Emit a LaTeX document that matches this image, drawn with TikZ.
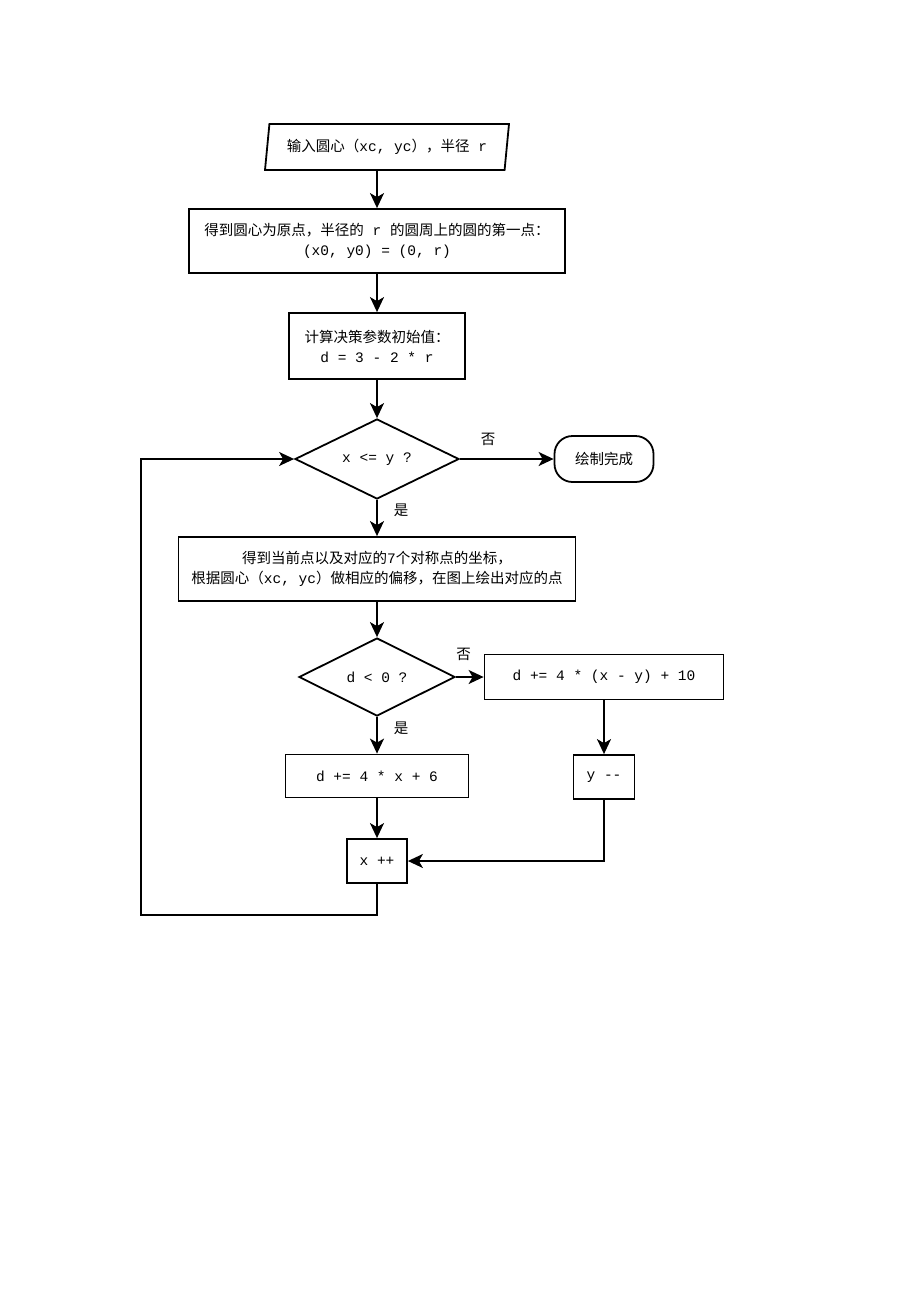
\documentclass[tikz,border=0pt]{standalone}
\usepackage{fontspec}
\setmainfont{Liberation Mono}
\newfontfamily\cjk{Noto Sans CJK SC}
\usetikzlibrary{arrows.meta,shapes.geometric}
\tikzset{
 >={Stealth[length=15pt,width=14pt,inset=4pt]},
 every node/.style={font=\fontsize{14.5}{20}\selectfont},
 conn/.style={line width=1.8pt},
 flowbox/.style={draw,line width=1.8pt,fill=white,inner sep=0pt,align=center},
 inbox/.style={flowbox,shape=trapezium,trapezium left angle=74,trapezium right angle=106,
   trapezium stretches body,minimum width=244pt,minimum height=46pt},
 decide/.style={flowbox,shape=diamond,aspect=2},
 endbox/.style={flowbox,rounded corners=18pt,minimum width=99pt,minimum height=46pt},
 lab/.style={inner sep=2pt,font=\fontsize{14.5}{20}\cjk}
}
\begin{document}
\begin{tikzpicture}[x=1pt,y=-1pt]
\useasboundingbox[fill=white] (0,0) rectangle (920,1302);
\path (387,147) node[name=in,inbox] {{\cjk 输入圆心（}xc, yc{\cjk ），半径} r};
\path (377,241) node[name=init,flowbox,minimum width=376pt,minimum height=64pt]
  {{\cjk 得到圆心为原点，半径的} r {\cjk 的圆周上的圆的第一点：}\\(x0, y0) = (0, r)};
\path (377,346) node[name=dinit,flowbox,minimum width=176pt,minimum height=66pt]
  {{\cjk 计算决策参数初始值：}\\d = 3 - 2 * r};
\path (377,459) node[name=test,decide,minimum width=164pt,minimum height=80pt] {x <= y ?};
\path (604,459) node[name=done,endbox] {\cjk 绘制完成};
\path (377,569) node[name=plot,flowbox,minimum width=397pt,minimum height=64pt]
  {{\cjk 得到当前点以及对应的}7{\cjk 个对称点的坐标，}\\{\cjk 根据圆心（}xc, yc{\cjk ）做相应的偏移，在图上绘出对应的点}};
\path (377,677) node[name=sign,decide,minimum width=156pt,minimum height=78pt] {d < 0 ?};
\path (604,677) node[name=dneg,flowbox,minimum width=239pt,minimum height=45pt] {d += 4 * (x - y) + 10};
\path (377,776) node[name=dpos,flowbox,minimum width=183pt,minimum height=43pt] {d += 4 * x + 6};
\path (604,777) node[name=ydec,flowbox,minimum width=61pt,minimum height=44pt] {y -{}-};
\path (377,861) node[name=xinc,flowbox,minimum width=60pt,minimum height=44pt] {x ++};
\coordinate (back) at (141,915);

\path[->,conn] (in.south -| init.north) edge (init.north);
\path[->,conn] (init.south) edge (dinit.north);
\path[->,conn] (dinit.south) edge (test.north);
\path[->,conn] (test.east) edge node[lab,above=10pt,pos=.3]{否} (done.west);
\path[->,conn] (test.south) edge node[lab,right=14pt,pos=.3]{是} (plot.north);
\path[->,conn] (plot.south) edge (sign.north);
\path[->,conn] (sign.east) edge node[lab,above=13pt,pos=.28]{否} (dneg.west);
\path[->,conn] (sign.south) edge node[lab,right=14pt,pos=.3]{是} (dpos.north);
\path[->,conn] (dneg.south) edge (ydec.north);
\path[->,conn] (dpos.south) edge (xinc.north);
\draw[->,conn] (ydec.south) |- (xinc.east);
\draw[->,conn] (xinc.south) |- (back) |- (test.west);
\end{tikzpicture}
\end{document}
